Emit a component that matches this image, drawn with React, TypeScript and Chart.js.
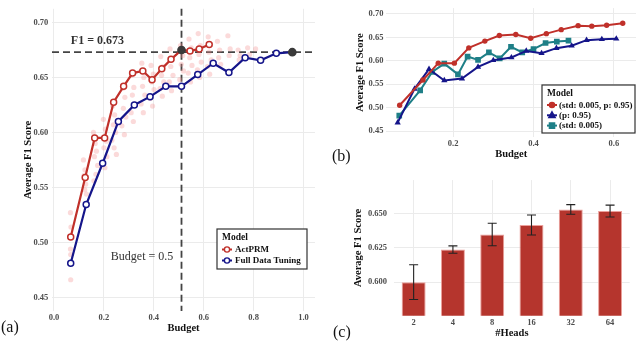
import React, { useEffect, useRef } from "react";
import { Chart, registerables } from "chart.js";
Chart.register(...registerables);

// ---------------- DATA ----------------
// Panel (a)
const actX = [0.067, 0.125, 0.163, 0.203, 0.239, 0.279, 0.315, 0.356, 0.393, 0.432, 0.469, 0.511, 0.545, 0.582, 0.622];
const actY = [0.505, 0.559, 0.595, 0.595, 0.6275, 0.642, 0.654, 0.656, 0.648, 0.658, 0.6665, 0.675, 0.674, 0.676, 0.68];
const fullX = [0.067, 0.129, 0.195, 0.258, 0.322, 0.385, 0.448, 0.511, 0.576, 0.638, 0.701, 0.766, 0.828, 0.891, 0.955];
const fullY = [0.481, 0.5345, 0.572, 0.61, 0.625, 0.6326, 0.642, 0.642, 0.6527, 0.663, 0.6545, 0.668, 0.6657, 0.672, 0.673];
const scatterX = [
  0.066, 0.068, 0.066, 0.067, 0.067,
  0.118, 0.124, 0.121, 0.127, 0.123, 0.13,
  0.158, 0.165, 0.17, 0.162, 0.175, 0.168, 0.16,
  0.198, 0.206, 0.21, 0.2, 0.212, 0.204,
  0.235, 0.243, 0.238, 0.247, 0.232, 0.241, 0.25,
  0.275, 0.284, 0.278, 0.288, 0.272, 0.282,
  0.311, 0.32, 0.314, 0.324, 0.309, 0.318,
  0.352, 0.36, 0.355, 0.364, 0.349, 0.358,
  0.389, 0.398, 0.392, 0.401, 0.386, 0.395,
  0.428, 0.436, 0.431, 0.44, 0.425, 0.434,
  0.465, 0.474, 0.468, 0.477, 0.462, 0.471,
  0.507, 0.516, 0.51, 0.519, 0.504, 0.513,
  0.541, 0.55, 0.544, 0.553, 0.538, 0.547,
  0.578, 0.587, 0.581, 0.59, 0.575, 0.584,
  0.618, 0.627, 0.621, 0.63, 0.615, 0.624,
  0.655, 0.664, 0.66, 0.668,
  0.697, 0.706, 0.702,
  0.738, 0.746, 0.742,
  0.776, 0.784,
  0.808,
];
const scatterY = [
  0.527, 0.514, 0.494, 0.489, 0.466,
  0.575, 0.566, 0.561, 0.553, 0.548, 0.544,
  0.6, 0.59, 0.583, 0.578, 0.57, 0.562, 0.556,
  0.612, 0.603, 0.592, 0.586, 0.578, 0.568,
  0.624, 0.616, 0.607, 0.6, 0.593, 0.586, 0.58,
  0.64, 0.632, 0.622, 0.614, 0.606, 0.598,
  0.652, 0.641, 0.634, 0.626, 0.618, 0.61,
  0.663, 0.65, 0.642, 0.634, 0.626, 0.618,
  0.661, 0.653, 0.646, 0.639, 0.631, 0.624,
  0.669, 0.66, 0.652, 0.646, 0.64, 0.633,
  0.676, 0.667, 0.66, 0.652, 0.646, 0.638,
  0.679, 0.67, 0.662, 0.656, 0.648, 0.641,
  0.685, 0.677, 0.668, 0.661, 0.654, 0.646,
  0.69, 0.679, 0.671, 0.664, 0.657, 0.65,
  0.687, 0.68, 0.673, 0.666, 0.66, 0.653,
  0.683, 0.675, 0.668, 0.662,
  0.688, 0.676, 0.67,
  0.675, 0.67, 0.666,
  0.677, 0.671,
  0.676,
];
const F1_REF = 0.673;
const BUDGET_REF = 0.511;
const aXTicks = [0, 0.2, 0.4, 0.6, 0.8, 1.0];
const aYTicks = [0.45, 0.5, 0.55, 0.6, 0.65, 0.7];

// Panel (b)
const bBothX = actX;
const bBothY = actY;
const bP95X = [0.062, 0.104, 0.14, 0.178, 0.222, 0.262, 0.3, 0.345, 0.382, 0.42, 0.457, 0.495, 0.532, 0.57, 0.606];
const bP95Y = [0.468, 0.54, 0.582, 0.558, 0.562, 0.587, 0.601, 0.607, 0.621, 0.616, 0.627, 0.632, 0.644, 0.646, 0.647];
const bStdX = [0.066, 0.118, 0.148, 0.178, 0.212, 0.236, 0.262, 0.289, 0.316, 0.344, 0.372, 0.4, 0.43, 0.458, 0.487];
const bStdY = [0.483, 0.537, 0.576, 0.594, 0.571, 0.609, 0.602, 0.618, 0.605, 0.63, 0.618, 0.625, 0.638, 0.641, 0.643];
const bXTicks = [0.2, 0.4, 0.6];
const bYTicks = [0.45, 0.5, 0.55, 0.6, 0.65, 0.7];

// Panel (c)
const heads = ["2", "4", "8", "16", "32", "64"];
const headMean = [0.6, 0.6238, 0.6348, 0.6417, 0.6531, 0.6519];
const headErr = [0.0127, 0.0027, 0.0082, 0.0073, 0.0035, 0.0043];
const cYTicks = [0.6, 0.625, 0.65];

// ---------------- STYLE ----------------
const FONT = "'Liberation Serif', 'DejaVu Serif', serif";
const RED = "#C0302A";
const NAVY = "#15158A";
const TEAL = "#1E7F87";
const DARK = "#3a3a3a";
const GRID = "#EBEBEB";
const TICK_COLOR = "#4d4d4d";
const tickFont = { family: FONT, size: 8.5, weight: "bold" as const };
const titleFont = { family: FONT, size: 10.5, weight: "bold" as const };

const pts = (xs: number[], ys: number[]) => xs.map((x, i) => ({ x, y: ys[i] }));

function drawMarker(ctx: CanvasRenderingContext2D, shape: string, x: number, y: number, r: number, fill: string, stroke: string, lw: number) {
  ctx.beginPath();
  if (shape === "circle") ctx.arc(x, y, r, 0, Math.PI * 2);
  else if (shape === "triangle") {
    ctx.moveTo(x, y - r * 1.1);
    ctx.lineTo(x + r, y + r * 0.7);
    ctx.lineTo(x - r, y + r * 0.7);
    ctx.closePath();
  } else ctx.rect(x - r, y - r, 2 * r, 2 * r);
  ctx.fillStyle = fill;
  ctx.fill();
  ctx.lineWidth = lw;
  ctx.strokeStyle = stroke;
  ctx.stroke();
}

type LegItem = { label: string; color: string; shape: string; hollow: boolean };
function boxLegend(id: string, box: { x: number; y: number; w: number; h: number }, titleY: number, itemYs: number[], lineX: number, textX: number, items: LegItem[]) {
  return {
    id,
    afterDraw(chart: any) {
      const ctx: CanvasRenderingContext2D = chart.ctx;
      ctx.save();
      ctx.fillStyle = "#fff";
      ctx.fillRect(box.x, box.y, box.w, box.h);
      ctx.strokeStyle = "#333";
      ctx.lineWidth = 1.2;
      ctx.strokeRect(box.x, box.y, box.w, box.h);
      ctx.fillStyle = "#111";
      ctx.textBaseline = "middle";
      ctx.textAlign = "left";
      ctx.font = `bold 9.5px ${FONT}`;
      ctx.fillText("Model", box.x + 5, titleY);
      ctx.font = `bold 9px ${FONT}`;
      items.forEach((it, i) => {
        const y = itemYs[i];
        ctx.beginPath();
        ctx.strokeStyle = it.color;
        ctx.lineWidth = 2;
        ctx.moveTo(lineX, y);
        ctx.lineTo(lineX + 10, y);
        ctx.stroke();
        drawMarker(ctx, it.shape, lineX + 5, y, it.shape === "triangle" ? 3.2 : 2.6, it.hollow ? "#fff" : it.color, it.color, 1.4);
        ctx.fillStyle = "#111";
        ctx.fillText(it.label, textX, y + 0.5);
      });
      ctx.restore();
    },
  };
}

function linScale(opts: any) {
  const { min, max, ticks, fmt, fit, isX, title, titlePad, tickPad } = opts;
  return {
    type: "linear",
    min,
    max,
    afterBuildTicks: (s: any) => {
      s.ticks = ticks.map((v: number) => ({ value: v }));
    },
    afterFit: (s: any) => {
      if (isX) s.height = fit;
      else s.width = fit;
    },
    ticks: {
      callback: (v: any) => Number(v).toFixed(fmt),
      font: tickFont,
      color: TICK_COLOR,
      padding: tickPad,
      maxRotation: 0,
      autoSkip: false,
    },
    grid: { color: GRID, lineWidth: 1, drawTicks: false },
    border: { display: false },
    title: { display: true, text: title, font: titleFont, color: "#111", padding: titlePad },
  };
}

export default function App() {
  const refA = useRef<HTMLCanvasElement>(null);
  const refB = useRef<HTMLCanvasElement>(null);
  const refC = useRef<HTMLCanvasElement>(null);

  useEffect(() => {
    const charts: Chart[] = [];

    // ---------- Panel (a) ----------
    const refLines = {
      id: "refLines",
      beforeDatasetsDraw(chart: any) {
        const { ctx, chartArea: ca, scales } = chart;
        ctx.save();
        ctx.setLineDash([7, 4]);
        ctx.strokeStyle = "#444";
        ctx.lineWidth = 1.8;
        const py = scales.y.getPixelForValue(F1_REF);
        ctx.beginPath();
        ctx.moveTo(ca.left, py);
        ctx.lineTo(ca.right, py);
        ctx.stroke();
        const px = scales.x.getPixelForValue(BUDGET_REF);
        ctx.beginPath();
        ctx.moveTo(px, ca.top);
        ctx.lineTo(px, ca.bottom);
        ctx.stroke();
        ctx.restore();
      },
      afterDraw(chart: any) {
        const { ctx, scales } = chart;
        ctx.save();
        ctx.fillStyle = "#333";
        ctx.textAlign = "center";
        ctx.textBaseline = "middle";
        ctx.font = `bold 12px ${FONT}`;
        ctx.fillText("F1 = 0.673", scales.x.getPixelForValue(0.174), scales.y.getPixelForValue(0.683));
        ctx.font = `12px ${FONT}`;
        ctx.fillText("Budget = 0.5", scales.x.getPixelForValue(0.353), scales.y.getPixelForValue(0.487));
        ctx.restore();
      },
    };
    const legA = boxLegend("legA", { x: 217, y: 229, w: 90, h: 40 }, 237.5, [249.5, 260.5], 222, 235, [
      { label: "ActPRM", color: RED, shape: "circle", hollow: true },
      { label: "Full Data Tuning", color: NAVY, shape: "circle", hollow: true },
    ]);
    const lastFull = fullY.length - 1;
    const refIdx = 11;
    charts.push(
      new Chart(refA.current!, {
        type: "scatter",
        data: {
          datasets: [
            {
              data: pts(scatterX, scatterY),
              pointRadius: 2.6,
              pointBackgroundColor: "rgba(242,140,140,0.32)",
              pointBorderWidth: 0,
              showLine: false,
              order: 3,
            } as any,
            {
              data: pts(fullX, fullY),
              showLine: true,
              borderColor: NAVY,
              borderWidth: 2.2,
              pointRadius: fullY.map((_, i) => (i === lastFull ? 3.6 : 3)),
              pointBackgroundColor: fullY.map((_, i) => (i === lastFull ? DARK : "#fff")),
              pointBorderColor: fullY.map((_, i) => (i === lastFull ? DARK : NAVY)),
              pointBorderWidth: 1.5,
              order: 2,
            },
            {
              data: pts(actX, actY),
              showLine: true,
              borderColor: RED,
              borderWidth: 2.2,
              pointRadius: actY.map((_, i) => (i === refIdx ? 3.6 : 3)),
              pointBackgroundColor: actY.map((_, i) => (i === refIdx ? DARK : "#fff")),
              pointBorderColor: actY.map((_, i) => (i === refIdx ? DARK : RED)),
              pointBorderWidth: 1.5,
              order: 1,
            },
          ],
        },
        options: {
          animation: false,
          responsive: false,
          events: [],
          plugins: { legend: { display: false }, tooltip: { enabled: false } },
          layout: { padding: { top: 0.9, right: 15, left: 0, bottom: 0 } },
          scales: {
            x: linScale({ min: -0.008, max: 1.046, ticks: aXTicks, fmt: 1, fit: 33.9, isX: true, title: "Budget", titlePad: { top: 0, bottom: 10.7 }, tickPad: 1.3 }),
            y: linScale({ min: 0.4375, max: 0.7125, ticks: aYTicks, fmt: 2, fit: 52, isX: false, title: "Average F1 Score", titlePad: { top: 21.7, bottom: 0 }, tickPad: 3.7 }),
          } as any,
        },
        plugins: [refLines, legA],
      })
    );

    // ---------- Panel (b) ----------
    const legB = boxLegend("legB", { x: 212, y: 85, w: 93, h: 48 }, 93.5, [105, 115.3, 125.6], 217, 229, [
      { label: "(std: 0.005, p: 0.95)", color: RED, shape: "circle", hollow: false },
      { label: "(p: 0.95)", color: NAVY, shape: "triangle", hollow: false },
      { label: "(std: 0.005)", color: TEAL, shape: "rect", hollow: false },
    ]);
    charts.push(
      new Chart(refB.current!, {
        type: "scatter",
        data: {
          datasets: [
            {
              data: pts(bStdX, bStdY),
              showLine: true,
              borderColor: TEAL,
              backgroundColor: TEAL,
              borderWidth: 2,
              pointStyle: "rect",
              pointRadius: 4,
              pointBorderWidth: 0,
              order: 3,
            },
            {
              data: pts(bP95X, bP95Y),
              showLine: true,
              borderColor: NAVY,
              backgroundColor: NAVY,
              borderWidth: 2,
              pointStyle: "triangle",
              pointRadius: 3.6,
              pointBorderWidth: 0,
              order: 2,
            },
            {
              data: pts(bBothX, bBothY),
              showLine: true,
              borderColor: RED,
              backgroundColor: RED,
              borderWidth: 2,
              pointStyle: "circle",
              pointRadius: 2.7,
              pointBorderWidth: 0,
              order: 1,
            },
          ],
        },
        options: {
          animation: false,
          responsive: false,
          events: [],
          plugins: { legend: { display: false }, tooltip: { enabled: false } },
          layout: { padding: { top: 0.5, right: 0.3, left: 0, bottom: 0 } },
          scales: {
            x: linScale({ min: 0.034, max: 0.655, ticks: bXTicks, fmt: 1, fit: 28.1, isX: true, title: "Budget", titlePad: { top: 0, bottom: 4.7 }, tickPad: 2 }),
            y: linScale({ min: 0.4375, max: 0.7125, ticks: bYTicks, fmt: 2, fit: 56.4, isX: false, title: "Average F1 Score", titlePad: { top: 24.4, bottom: 0 }, tickPad: 3 }),
          } as any,
        },
        plugins: [legB],
      })
    );

    // ---------- Panel (c) ----------
    const errBars = {
      id: "errBars",
      afterDatasetsDraw(chart: any) {
        const { ctx, scales } = chart;
        const meta = chart.getDatasetMeta(0);
        ctx.save();
        ctx.strokeStyle = "#222";
        ctx.lineWidth = 1.1;
        meta.data.forEach((el: any, i: number) => {
          const x = el.x;
          const yt = scales.y.getPixelForValue(headMean[i] + headErr[i]);
          const yb = scales.y.getPixelForValue(headMean[i] - headErr[i]);
          ctx.beginPath();
          ctx.moveTo(x, yt);
          ctx.lineTo(x, yb);
          ctx.moveTo(x - 4.5, yt);
          ctx.lineTo(x + 4.5, yt);
          ctx.moveTo(x - 4.5, yb);
          ctx.lineTo(x + 4.5, yb);
          ctx.stroke();
        });
        ctx.restore();
      },
    };
    const cY: any = linScale({ min: 0.5755, max: 0.6745, ticks: cYTicks, fmt: 3, fit: 64, isX: false, title: "Average F1 Score", titlePad: { top: 21.7, bottom: 0 }, tickPad: 7 });
    charts.push(
      new Chart(refC.current!, {
        type: "bar",
        data: {
          labels: heads,
          datasets: [
            {
              data: headMean,
              backgroundColor: "#B5352D",
              borderColor: "rgba(236,160,155,1)",
              borderWidth: 1,
              barPercentage: 0.61,
              categoryPercentage: 1,
            },
          ],
        },
        options: {
          animation: false,
          responsive: false,
          events: [],
          plugins: { legend: { display: false }, tooltip: { enabled: false } },
          layout: { padding: { top: 11.7, right: 10.3, left: 0, bottom: 0 } },
          scales: {
            x: {
              type: "category",
              offset: true,
              afterFit: (s: any) => {
                s.height = 29.3;
              },
              ticks: { font: tickFont, color: TICK_COLOR, padding: 1.7, maxRotation: 0, autoSkip: false },
              grid: { color: GRID, lineWidth: 1, drawTicks: false, offset: false },
              border: { display: false },
              title: { display: true, text: "#Heads", font: titleFont, color: "#111", padding: { top: 0, bottom: 5.7 } },
            },
            y: cY,
          } as any,
        },
        plugins: [errBars],
      })
    );

    return () => charts.forEach((c) => c.destroy());
  }, []);

  const panelLabel: React.CSSProperties = {
    position: "absolute",
    fontFamily: FONT,
    fontSize: 16,
    lineHeight: "16px",
    color: "#111",
  };

  return (
    <div style={{ position: "absolute", left: 0, top: 0, width: 640, height: 345, background: "#fff", overflow: "hidden" }}>
      <canvas ref={refA} width={330} height={345} style={{ position: "absolute", left: 0, top: 0, width: 330, height: 345 }} />
      <canvas ref={refB} width={310} height={165} style={{ position: "absolute", left: 330, top: 0, width: 310, height: 165 }} />
      <canvas ref={refC} width={310} height={177} style={{ position: "absolute", left: 330, top: 168, width: 310, height: 177 }} />
      <div style={{ ...panelLabel, left: 1, top: 318.5 }}>(a)</div>
      <div style={{ ...panelLabel, left: 332, top: 148 }}>(b)</div>
      <div style={{ ...panelLabel, left: 333, top: 324 }}>(c)</div>
    </div>
  );
}
